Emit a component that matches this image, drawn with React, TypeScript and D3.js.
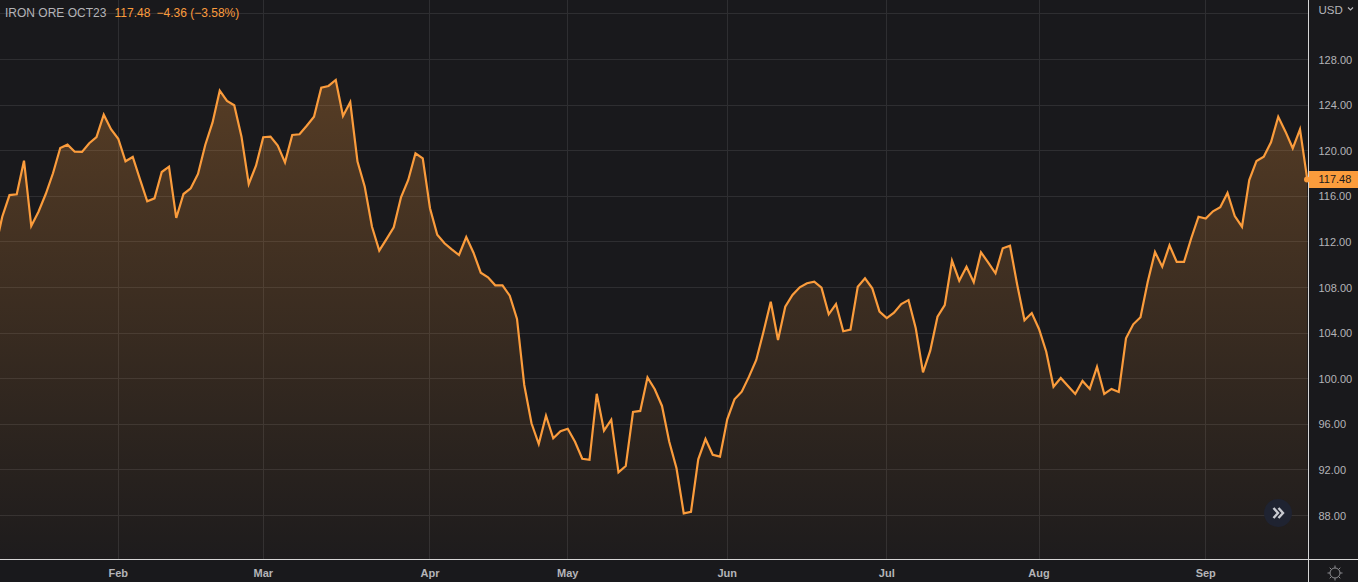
import React from "react";
import * as d3 from "d3";

const W = 1358;
const H = 582;
const prices = [
  111.3, 114.21, 116.11, 116.18, 119.12, 113.39, 114.65, 116.2, 118.02, 120.24,
  120.53, 119.91, 119.89, 120.65, 121.2, 123.16, 121.88, 121.05, 119.07, 119.45,
  117.49, 115.56, 115.82, 118.13, 118.6, 114.1, 116.2, 116.7, 117.96, 120.5,
  122.46, 125.26, 124.36, 123.98, 121.23, 117.08, 118.68, 121.18, 121.23, 120.44,
  118.98, 121.38, 121.44, 122.19, 122.98, 125.53, 125.68, 126.2, 123.04, 124.25,
  119.04, 116.84, 113.33, 111.23, 112.25, 113.28, 115.91, 117.43, 119.77, 119.33,
  114.95, 112.63, 111.88, 111.35, 110.85, 112.43, 111.05, 109.3, 108.89, 108.19,
  108.19, 107.28, 105.24, 99.45, 96.09, 94.27, 96.75, 94.77, 95.39, 95.61,
  94.47, 92.98, 92.89, 98.68, 95.44, 96.4, 91.79, 92.34, 97.08, 97.17,
  100.12, 99.07, 97.61, 94.47, 92.14, 88.19, 88.33, 92.93, 94.71, 93.33,
  93.16, 96.44, 98.19, 98.86, 100.18, 101.64, 104.12, 106.75, 103.39, 106.32,
  107.34, 108.02, 108.37, 108.51, 107.98, 105.65, 106.55, 104.16, 104.3, 108.07,
  108.81, 107.93, 105.88, 105.32, 105.79, 106.55, 106.9, 104.42, 100.56, 102.46,
  105.44, 106.46, 110.35, 108.6, 109.82, 108.46, 111.09, 110.18, 109.25, 111.44,
  111.67, 108.22, 105.12, 105.76, 104.36, 102.37, 99.3, 100.06, 99.36, 98.66,
  99.8, 99.1, 101.03, 98.66, 99.1, 98.83, 103.54, 104.77, 105.39, 108.51,
  111.11, 109.82, 111.7, 110.24, 110.24, 112.32, 114.21, 114.04, 114.68, 115.04,
  116.29, 114.27, 113.33, 117.43, 119.1, 119.47, 120.74, 122.98, 121.67, 120.21,
  121.88, 117.48,
];
const monthLabels = ["Feb", "Mar", "Apr", "May", "Jun", "Jul", "Aug", "Sep"];
const monthIndex = [17, 37, 60, 79, 101, 123, 144, 167];
const priceTicks = [128, 124, 120, 116, 112, 108, 104, 100, 96, 92, 88];
const gridOnlyTicks = [132];
const lastPrice = 117.48;

const BG = "#19191c";
const GRID = "#2e2e31";
const AXIS = "#d6d6d6";
const TEXT = "#b4b4b8";
const ORANGE = "#fb9c3c";
const FONT = "'Liberation Sans', Arial, sans-serif";

const plotRight = 1308;
const plotBottom = 559;

export default function App() {
  const x = d3.scaleLinear().domain([0, 181]).range([-5, 1307.25]);
  const y = d3.scaleLinear().domain([88, 128]).range([515.5, 59.5]);
  const line = d3.line<number>().x((_, i) => x(i)).y((d) => y(d));
  const area = d3
    .area<number>()
    .x((_, i) => x(i))
    .y0(plotBottom)
    .y1((d) => y(d));
  const gear = d3.range(8).map((i) => (i * Math.PI) / 4);
  return (
    <svg
      width={W}
      height={H}
      viewBox={`0 0 ${W} ${H}`}
      style={{ position: "fixed", left: 0, top: 0, display: "block", fontFamily: FONT }}
    >
      <defs>
        <linearGradient id="fill" gradientUnits="userSpaceOnUse" x1="0" x2="0" y1="80" y2="559">
          <stop offset="0" stopColor={ORANGE} stopOpacity={0.27} />
          <stop offset="1" stopColor={ORANGE} stopOpacity={0.02} />
        </linearGradient>
        <clipPath id="plot">
          <rect x={0} y={0} width={plotRight} height={plotBottom} />
        </clipPath>
      </defs>
      <rect width={W} height={H} fill={BG} />
      {[...priceTicks, ...gridOnlyTicks].map((t) => (
        <line key={t} x1={0} x2={plotRight} y1={Math.floor(y(t)) + 0.5} y2={Math.floor(y(t)) + 0.5} stroke={GRID} />
      ))}
      {monthIndex.map((m) => (
        <line key={m} x1={Math.floor(x(m)) + 0.5} x2={Math.floor(x(m)) + 0.5} y1={0} y2={plotBottom} stroke={GRID} />
      ))}
      <g clipPath="url(#plot)">
        <path d={area(prices) ?? ""} fill="url(#fill)" />
        <path d={line(prices) ?? ""} fill="none" stroke={ORANGE} strokeWidth={2.2} strokeLinejoin="miter" />
      </g>
      <line x1={0} x2={W} y1={559.5} y2={559.5} stroke={AXIS} />
      <line x1={1308.5} x2={1308.5} y1={0} y2={H} stroke={AXIS} />

      <text x={5} y={17} fontSize={12} fill={TEXT}>IRON ORE OCT23</text>
      <text x={114.5} y={17} fontSize={12} fill={ORANGE}>117.48</text>
      <text x={156.5} y={17} fontSize={12} fill={ORANGE}>−4.36 (−3.58%)</text>
      <text x={1318.5} y={13.5} fontSize={11.5} fill={TEXT}>USD</text>
      <path d="M1348 7.5 L1350.5 10 L1353 7.5" fill="none" stroke={TEXT} strokeWidth={1.2} />

      {priceTicks.map((t) => (
        <text key={t} x={1318.5} y={y(t) + 4} fontSize={11} fill={TEXT}>{t.toFixed(2)}</text>
      ))}
      <path d="M1309 171 H1358 V188 H1309 Z" fill={ORANGE} />
      <circle cx={1307} cy={y(lastPrice)} r={3} fill={ORANGE} />
      <text x={1318.5} y={y(lastPrice) + 4} fontSize={11} fill="#19191c">{lastPrice.toFixed(2)}</text>

      {monthIndex.map((m, i) => (
        <text key={m} x={x(m)} y={577} fontSize={11} fontWeight="bold" fill={TEXT} textAnchor="middle">
          {monthLabels[i]}
        </text>
      ))}

      <circle cx={1278} cy={513} r={14} fill="#1f2331" />
      <g fill="none" stroke="#c8cad0" strokeWidth={2.4}>
        <path d="M1273.5 508 L1278 513 L1273.5 518" />
        <path d="M1278.5 508 L1283 513 L1278.5 518" />
      </g>

      <circle cx={1335} cy={573} r={5} fill="none" stroke="#8c8c90" />
      {gear.map((a) => (
        <line
          key={a}
          x1={1335 + 5 * Math.cos(a)}
          y1={573 + 5 * Math.sin(a)}
          x2={1335 + 7.5 * Math.cos(a)}
          y2={573 + 7.5 * Math.sin(a)}
          stroke="#8c8c90"
        />
      ))}
    </svg>
  );
}
